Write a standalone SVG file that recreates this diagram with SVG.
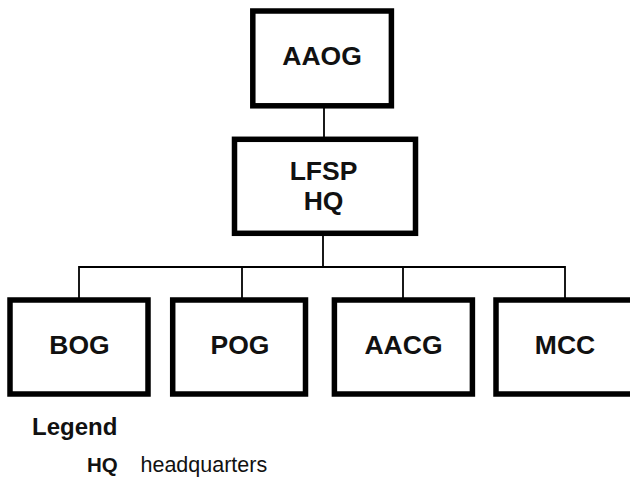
<svg xmlns="http://www.w3.org/2000/svg" width="630" height="477" viewBox="0 0 630 477">
  <style>
    .box { fill: #ffffff; stroke: #000000; stroke-width: 5.5; }
    .label { font-family: "Liberation Sans", Arial, sans-serif; font-weight: bold; font-size: 26.5px; fill: #111111; text-anchor: middle; }
    .wire { fill: none; stroke: #000000; stroke-width: 1.8; }
    .legend-title { font-family: "Liberation Sans", Arial, sans-serif; font-weight: bold; font-size: 24px; fill: #111111; }
    .legend-key { font-family: "Liberation Sans", Arial, sans-serif; font-weight: bold; font-size: 20.5px; fill: #111111; }
    .legend-text { font-family: "Liberation Sans", Arial, sans-serif; font-size: 21.5px; fill: #111111; }
  </style>
  <rect width="630" height="477" fill="#ffffff"/>

  <!-- connectors -->
  <g id="connectors">
    <line class="wire" x1="324" y1="108" x2="324" y2="138"/>
    <line class="wire" x1="323" y1="235" x2="323" y2="267"/>
    <line class="wire" x1="79" y1="267" x2="565" y2="267"/>
    <line class="wire" x1="79" y1="266" x2="79" y2="299"/>
    <line class="wire" x1="242" y1="266" x2="242" y2="299"/>
    <line class="wire" x1="403" y1="266" x2="403" y2="299"/>
    <line class="wire" x1="565" y1="266" x2="565" y2="299"/>
  </g>

  <!-- top unit -->
  <g id="aaog">
    <rect class="box" x="252.8" y="11" width="138.6" height="94.8"/>
    <text class="label" x="322" y="65">AAOG</text>
  </g>

  <g id="lfsp-hq">
    <rect class="box" x="234.5" y="139.3" width="181" height="94"/>
    <text class="label" x="323.5" y="180">LFSP</text>
    <text class="label" x="323.5" y="210">HQ</text>
  </g>

  <!-- subordinate units -->
  <g id="bog">
    <rect class="box" x="10" y="300" width="138" height="94"/>
    <text class="label" x="79.5" y="354">BOG</text>
  </g>

  <g id="pog">
    <rect class="box" x="172.7" y="300" width="132.8" height="94"/>
    <text class="label" x="240" y="354">POG</text>
  </g>

  <g id="aacg">
    <rect class="box" x="334.4" y="300" width="138" height="94"/>
    <text class="label" x="403.5" y="354">AACG</text>
  </g>

  <g id="mcc">
    <rect class="box" x="496" y="300" width="138" height="94"/>
    <text class="label" x="565" y="354">MCC</text>
  </g>

  <!-- legend -->
  <g id="legend">
    <text class="legend-title" x="32" y="434.5">Legend</text>
    <text class="legend-key" x="87" y="472">HQ</text>
    <text class="legend-text" x="140.5" y="472">headquarters</text>
  </g>
</svg>
